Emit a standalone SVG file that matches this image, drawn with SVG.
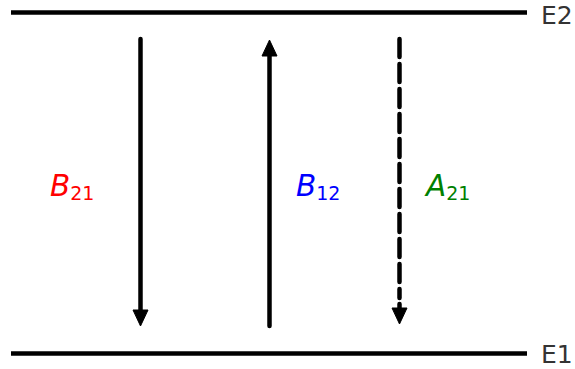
<svg xmlns="http://www.w3.org/2000/svg" width="575" height="369" viewBox="0 0 575 369">
<style>
.level{stroke:#000;stroke-width:4.5;fill:none}
.lvl-label{font-family:"DejaVu Sans",sans-serif;font-size:25px;fill:#333}
.shaft{stroke:#000;stroke-width:4.5;fill:none;stroke-linecap:round}
.dash{stroke-dasharray:18 7}
.head{fill:#000;stroke:#000;stroke-width:1;stroke-linejoin:miter}
.coef{font-family:"DejaVu Sans",sans-serif;font-style:italic;font-size:29.5px}
.sub{font-style:normal;font-size:19px}
</style>
<rect width="575" height="369" fill="#fff"/>
<g id="E2">
<line class="level" x1="11" y1="12.5" x2="527" y2="12.5"/>
<text class="lvl-label" x="541" y="23.5">E2</text>
</g>
<g id="E1">
<line class="level" x1="11" y1="353.5" x2="527" y2="353.5"/>
<text class="lvl-label" x="541" y="363">E1</text>
</g>
<g id="connectors">
<g id="B21-arrow">
<line class="shaft" x1="140.5" y1="39" x2="140.5" y2="312"/>
<polygon class="head" points="133,310 148,310 140.5,326"/>
</g>
<g id="B12-arrow">
<line class="shaft" x1="269.5" y1="326" x2="269.5" y2="54"/>
<polygon class="head" points="262,56 277,56 269.5,40"/>
</g>
<g id="A21-arrow">
<line class="shaft dash" x1="399.5" y1="39" x2="399.5" y2="298"/>
<polygon class="head" points="392,308 407,308 399.5,324"/>
<line class="shaft" x1="399.5" y1="304" x2="399.5" y2="310"/>
</g>
</g>
<g id="B21">
<text class="coef" x="50" y="196" fill="#ff0000">B<tspan class="sub" dy="3.5">21</tspan></text>
</g>
<g id="B12">
<text class="coef" x="296" y="196" fill="#0000ff">B<tspan class="sub" dy="3.5">12</tspan></text>
</g>
<g id="A21">
<text class="coef" x="426" y="196" fill="#008000">A<tspan class="sub" dy="3.5">21</tspan></text>
</g>
</svg>
